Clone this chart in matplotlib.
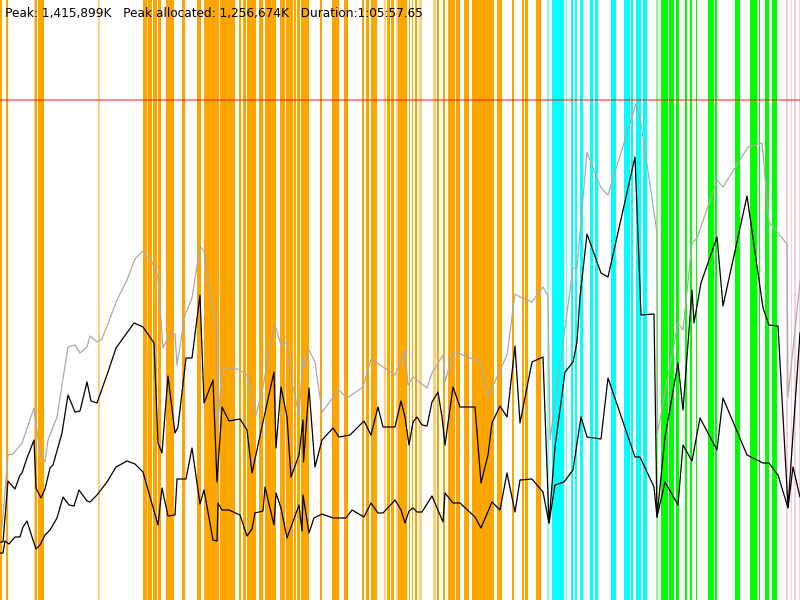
import matplotlib
matplotlib.use("Agg")
import matplotlib.pyplot as plt

# ---- time axis: 0..800 (sample positions across the 1:05:57.65 run) ----
# ---- memory: arbitrary height units (0..600) ----

peak_t = [0, 2, 8, 13, 22, 34, 40, 45, 48, 57, 68, 75, 80, 87, 90, 97, 102, 117, 127, 135,
          143, 152, 158, 163, 170, 175, 177, 185, 192, 200, 204, 208, 217, 218, 222, 238, 247,
          256, 263, 270, 275, 281, 287, 291, 299, 303, 304, 309, 315, 322, 339, 347, 363, 371,
          395, 405, 408, 413, 427, 432, 443, 445, 453, 458, 480, 488, 507, 515, 522, 532, 543,
          548, 550, 573, 577, 587, 601, 608, 636, 641, 657, 657.5, 678, 683, 692, 697, 717, 723,
          748, 762, 769, 787, 788, 800]
peak_mem = [72, 73, 145, 146, 157, 192, 147, 138, 160, 183, 253, 255, 247, 253, 264, 258, 261, 300, 320, 341,
            349, 338, 323, 252, 267, 266, 235, 285, 302, 354, 349, 317, 265, 177, 232, 231, 225,
            185, 213, 253, 275, 255, 258, 222, 185, 242, 233, 250, 238, 188, 210, 202, 213, 241,
            225, 250, 215, 223, 212, 227, 245, 218, 247, 247, 238, 203, 245, 306, 302, 298, 313,
            304, 160, 332, 332, 448, 412, 405, 496, 477, 367, 167, 277, 270, 357, 362, 420, 413,
            453, 457, 378, 356, 203, 318]

alloc_t = [0, 3, 8, 15, 20, 22, 27, 34, 36, 41, 45, 50, 53, 62, 68, 75, 80, 87, 91, 97, 108, 116,
           134, 143, 154, 158, 162, 168, 175, 178, 186, 192, 200, 204, 213, 217, 222, 229, 240,
           247, 252, 263, 274, 276, 281, 287, 291, 299, 303, 303.5, 309, 315, 322, 333, 339, 350,
           364, 371, 378, 383, 395, 401, 405, 409, 413, 417, 422, 427, 432, 438, 442, 445, 453,
           460, 475, 481, 488, 492, 500, 507, 515, 520, 532, 543, 549, 555, 565, 573, 577, 580,
           587, 601, 608, 635, 641, 654, 657, 665, 678, 683, 692, 694, 701, 717, 723, 747, 763,
           769, 778, 788, 800]
alloc_mem = [58, 58, 119, 111, 125, 127, 142, 160, 112, 102, 111, 132, 135, 167, 205, 188, 189, 218, 199, 197, 228, 252,
             277, 273, 257, 157, 147, 224, 167, 173, 242, 242, 305, 197, 220, 118, 193, 179, 181,
             170, 127, 178, 228, 152, 213, 183, 123, 145, 180, 138, 212, 133, 160, 172, 163, 165,
             179, 165, 193, 173, 173, 199, 183, 155, 178, 183, 175, 174, 198, 208, 183, 155, 213,
             193, 193, 117, 145, 177, 194, 183, 254, 177, 238, 243, 77, 153, 228, 238, 258, 303,
             366, 327, 323, 443, 285, 286, 83, 163, 237, 190, 310, 277, 317, 363, 294, 404, 292,
             275, 274, 93, 267]

base_t = [0, 3, 5, 9, 15, 20, 23, 27, 32, 36, 40, 45, 50, 57, 63, 69, 74, 79, 87, 90, 97, 107,
          116, 127, 135, 143, 158, 162, 168, 175, 177, 186, 192, 200, 204, 213, 217, 218, 222,
          229, 240, 247, 252, 255, 263, 265, 274, 276, 281, 287, 299, 302, 303, 309, 314, 322,
          333, 346, 352, 364, 371, 378, 383, 395, 401, 405, 409, 413, 417, 422, 432, 443, 445,
          453, 460, 475, 481, 492, 500, 507, 515, 520, 532, 543, 549, 555, 564, 573, 581, 587,
          601, 608, 635, 640, 654, 657, 665, 678, 683, 692, 700, 717, 723, 747, 763, 769, 778,
          788, 793, 800]
base_mem = [47, 47, 59, 56, 63, 63, 73, 79, 63, 51, 55, 65, 70, 82, 103, 95, 94, 110, 99, 98, 105, 118,
            133, 139, 136, 128, 75, 112, 84, 85, 121, 121, 152, 96, 110, 60, 59, 97, 90,
            90, 85, 64, 71, 87, 89, 113, 75, 107, 92, 62, 95, 69, 105, 67, 82, 86,
            82, 82, 90, 83, 97, 87, 87, 100, 90, 77, 89, 92, 88, 88, 104, 78, 107,
            97, 97, 83, 72, 98, 90, 127, 88, 120, 121, 108, 77, 115, 118, 130, 183, 163,
            161, 222, 143, 143, 113, 83, 118, 95, 155, 139, 182, 150, 202, 145, 137, 137, 125,
            92, 133, 103]

# GC / phase events: (start, end, kind); kind "o"=orange, "ol"=light orange, "c"=cyan,
# "cl"=light cyan, "g"=green, "gl"=light green, "p"=pink
events_start = [0, 6, 33.5, 35, 38, 98, 143, 147, 148, 153, 158, 166, 182, 197, 204, 220, 239, 243,
                247, 259, 265, 280, 286, 294, 297, 301, 320, 332, 344, 362, 366, 371, 384, 387, 391,
                396, 398, 409, 412, 415, 419, 433, 437, 443, 448, 456, 464, 472, 497, 512, 522, 525,
                536,
                547, 552, 566, 571, 575, 580, 590, 595, 611, 624, 631, 636, 643,
                656, 661, 669, 676, 685, 690, 696, 708, 715, 735, 750, 759, 765, 772,
                786, 791, 794, 799]
events_end = [2, 8, 35, 37, 44, 99.5, 147, 148, 152, 157, 161, 174, 185, 201, 219, 235, 241, 246,
              256, 263, 276, 285, 293, 296, 300, 309, 322, 339, 348, 364, 369, 377, 386, 390, 394,
              397.5, 407, 410, 413, 417, 422, 436, 439, 445, 455, 460, 469, 494, 502, 514, 524, 528,
              541,
              549, 564, 567, 573, 577, 583, 593, 598, 616, 630, 633, 641, 647,
              658, 668, 674, 679, 687, 692, 697, 714, 717, 740, 757, 760, 769, 777,
              788, 792, 796, 800]
events_kind = ["o", "o", "ol", "o", "o", "ol", "o", "ol", "o", "o", "o", "o", "o", "o", "o", "o", "o", "o",
               "o", "o", "o", "o", "o", "o", "o", "o", "o", "o", "o", "o", "o", "o", "ol", "o", "o",
               "ol", "o", "o", "o", "o", "ol", "ol", "o", "o", "o", "o", "o", "o", "o", "o", "o", "o",
               "o",
               "cl", "c", "cl", "c", "c", "c", "c", "c", "c", "c", "c", "c", "c",
               "gl", "g", "g", "g", "g", "g", "g", "g", "g", "g", "g", "g", "g", "g",
               "p", "p", "p", "p"]

limit_mem = 500
header = "Peak: 1,415,899K   Peak allocated: 1,256,674K   Duration:1:05:57.65"

kind_style = {
    "o": ("#FFA500", 1.0), "ol": ("#FFA500", 0.5),
    "c": ("#00FFFF", 1.0), "cl": ("#00FFFF", 0.5),
    "g": ("#00FF00", 1.0), "gl": ("#00FF00", 0.5),
    "p": ("#FFC0CB", 0.8),
}

fig = plt.figure(figsize=(8, 6), dpi=100)
ax = fig.add_axes([0, 0, 1, 1])
ax.set_xlim(0, 800)
ax.set_ylim(0, 600)
ax.axis("off")

for s, e, k in zip(events_start, events_end, events_kind):
    c, a = kind_style[k]
    ax.axvspan(s, e, color=c, alpha=a, lw=0, zorder=1)

ax.axhline(limit_mem, color="#FF0000", alpha=0.5, lw=1.3, zorder=2)

ax.plot(peak_t, peak_mem, color="#AAAAAA", lw=0.9, zorder=3)
ax.plot(alloc_t, alloc_mem, color="black", lw=0.9, zorder=4)
ax.plot(base_t, base_mem, color="black", lw=0.9, zorder=4)

fig.text(5 / 800, 1 - 17.5 / 600, header, fontsize=8.7, family="DejaVu Sans",
         color="black", va="baseline", ha="left", zorder=10)

fig.savefig("out.png", dpi=100)
